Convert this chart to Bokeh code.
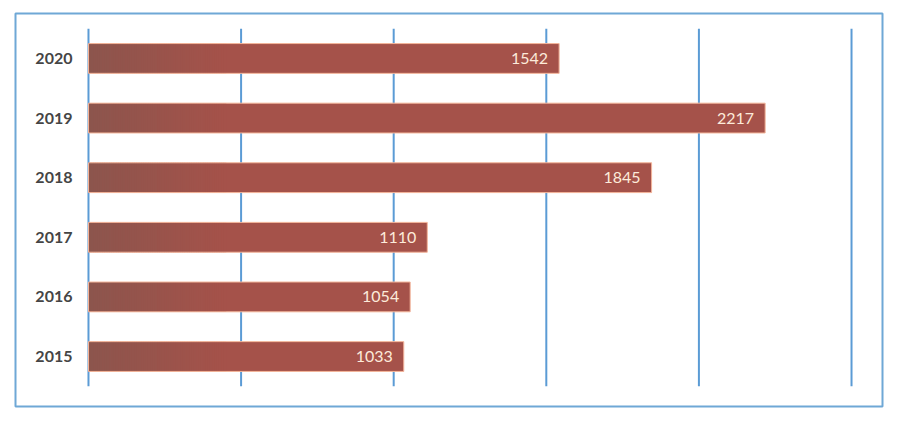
import numpy as np
from bokeh.plotting import figure
from bokeh.models import ColumnDataSource
from bokeh.core.properties import value
from bokeh.embed import file_html
from bokeh.resources import INLINE

# Yearly totals
years = ["2015", "2016", "2017", "2018", "2019", "2020"]
totals = [1033, 1054, 1110, 1845, 2217, 1542]
grid_ticks = [0, 500, 1000, 1500, 2000, 2500]

ypos = list(range(len(years)))
BAR_H = 0.5

p = figure(width=900, height=422, output_backend="svg", toolbar_location=None,
           x_range=(-239.1, 2601.5), y_range=(-0.838, 5.754),
           min_border_left=15, min_border_right=18, min_border_top=13, min_border_bottom=16)
p.xaxis.visible = False
p.yaxis.visible = False
p.xgrid.visible = False
p.ygrid.visible = False
p.outline_line_color = "#6FA8D6"
p.outline_line_width = 2
p.background_fill_color = "white"
p.border_fill_color = "white"

# vertical grid lines spanning the category band
p.segment(x0=grid_ticks, x1=grid_ticks, y0=[-0.5] * len(grid_ticks), y1=[5.5] * len(grid_ticks),
          line_color="#5B9BD5", line_width=2)

src = ColumnDataSource(dict(y=ypos, total=totals, label=[str(t) for t in totals], year=years))

# main bar fill
p.hbar(y="y", left=0, right="total", height=BAR_H, source=src,
       fill_color="#A5524A", line_color=None)

# darker shading at the base of each bar, faded out in thin strips
n_strips = 60
fade_len = 450.0
edges = np.linspace(0, fade_len, n_strips + 1)
dark = np.array([0x8C, 0x55, 0x4D])
base = np.array([0xA5, 0x52, 0x4A])
for i in range(n_strips):
    t = i / (n_strips - 1)
    c = dark * (1 - t) + base * t
    col = "#%02x%02x%02x" % tuple(int(round(v)) for v in c)
    p.hbar(y=ypos, left=edges[i], right=edges[i + 1] + 1.5, height=BAR_H,
           fill_color=col, line_color=None)

# thin light outline on top
p.hbar(y="y", left=0, right="total", height=BAR_H, source=src,
       fill_color=None, line_color="#F4B59A", line_width=1)

# value labels inside the bar ends
p.text(x="total", y="y", text="label", source=src, x_offset=-11,
       text_align="right", text_baseline="middle",
       text_font=value("Lato"), text_font_size="16px", text_color="#FDEBDA")

# year labels left of the bars
p.text(x=0, y="y", text="year", source=src, x_offset=-16,
       text_align="right", text_baseline="middle",
       text_font=value("Lato"), text_font_style="bold", text_font_size="16px",
       text_color="#454545")

open("out.html", "w").write(file_html(p, INLINE))
